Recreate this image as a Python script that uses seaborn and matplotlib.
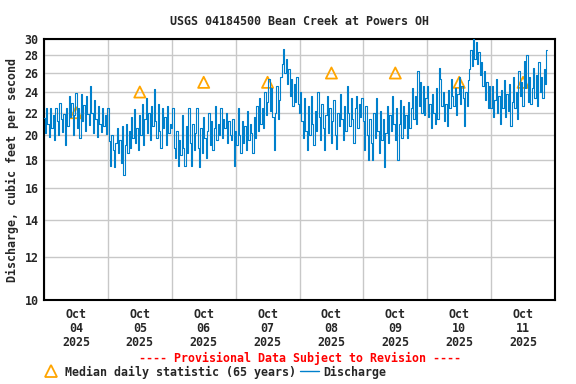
import numpy as np
import pandas as pd
import seaborn as sns
import matplotlib.pyplot as plt
import matplotlib.dates as mdates
from matplotlib.ticker import FixedLocator, FixedFormatter, NullLocator
from matplotlib.lines import Line2D

# half-hourly discharge (cfs), one list per day
d04 = [21.5, 20.2, 22.4, 21.0, 19.9, 22.4, 20.6, 21.8, 19.6, 22.4, 21.2, 20.0, 22.9, 21.4, 20.3, 21.9,
       19.2, 22.4, 20.8, 23.6, 21.6, 22.9, 20.0, 21.8, 23.9, 20.6, 22.4, 19.8, 23.8, 21.2, 22.7, 20.4,
       23.6, 21.9, 20.9, 24.6, 22.0, 20.2, 23.2, 21.4, 19.9, 22.6, 21.0, 20.3, 22.4, 20.8, 21.8, 20.1]
d05 = [22.4, 19.5, 17.6, 20.0, 18.8, 17.5, 19.4, 20.6, 18.6, 19.6, 17.8, 20.8, 16.9, 19.2, 21.0, 18.6,
       20.4, 19.0, 21.6, 19.8, 22.3, 19.4, 20.6, 18.8, 21.8, 20.0, 22.8, 19.2, 21.4, 23.4, 20.2, 22.0,
       19.6, 22.6, 20.8, 24.3, 21.2, 19.8, 22.8, 20.4, 19.0, 22.4, 20.6, 21.6, 19.2, 22.6, 20.2, 21.0]
d06 = [20.6, 22.4, 19.0, 18.2, 20.4, 17.6, 19.6, 18.4, 21.8, 19.0, 17.6, 20.8, 18.6, 22.4, 19.4, 17.6,
       21.0, 18.8, 20.2, 22.4, 19.0, 17.5, 20.6, 18.6, 21.6, 19.8, 18.2, 20.4, 22.0, 19.2, 21.2, 18.8,
       20.6, 22.6, 19.6, 21.0, 20.0, 22.4, 19.8, 21.4, 20.6, 22.0, 19.4, 21.2, 20.0, 19.6, 21.4, 17.6]
d07 = [20.4, 19.2, 22.4, 20.0, 18.6, 21.2, 19.4, 20.8, 18.8, 22.2, 19.6, 21.0, 20.2, 18.6, 21.6, 19.8,
       22.6, 20.4, 23.4, 21.0, 22.4, 20.6, 24.0, 21.8, 23.0, 25.4, 22.2, 24.4, 21.6, 18.8, 22.0, 24.6,
       21.4, 23.2, 25.6, 27.0, 28.8, 26.0, 27.6, 24.8, 26.4, 23.6, 25.4, 22.6, 24.8, 23.0, 25.6, 22.8]
d08 = [22.0, 24.0, 21.2, 19.8, 23.4, 20.4, 18.8, 22.6, 20.0, 23.6, 21.0, 19.2, 22.2, 20.4, 24.0, 21.6,
       19.6, 22.8, 20.6, 18.8, 21.8, 23.6, 20.2, 22.4, 19.4, 21.2, 23.2, 20.0, 18.9, 22.0, 20.8, 23.8,
       21.4, 19.6, 22.6, 20.4, 24.6, 22.0, 20.8, 23.4, 21.4, 19.4, 22.4, 23.6, 20.6, 22.8, 21.6, 23.4]
d09 = [21.2, 18.8, 22.6, 20.0, 18.0, 21.4, 19.4, 18.0, 22.0, 19.8, 23.4, 20.4, 18.6, 22.2, 19.6, 21.4,
       17.5, 20.2, 22.6, 19.4, 21.8, 20.4, 23.6, 21.0, 19.6, 22.4, 18.0, 21.0, 23.2, 19.8, 22.6, 20.6,
       21.8, 19.8, 23.0, 20.6, 22.4, 24.4, 21.4, 23.6, 21.0, 26.2, 22.6, 25.0, 22.0, 24.6, 21.8, 23.4]
d10 = [24.6, 21.6, 22.8, 20.6, 23.8, 22.0, 21.0, 24.4, 21.4, 26.6, 25.4, 22.6, 24.0, 21.2, 22.8, 20.8,
       24.2, 22.4, 25.4, 23.6, 22.6, 24.4, 21.8, 23.8, 25.6, 22.8, 24.6, 23.4, 20.8, 24.0, 22.6, 25.2,
       26.4, 28.6, 26.8, 30.0, 27.6, 29.6, 27.0, 28.4, 25.8, 27.2, 24.6, 26.2, 23.2, 25.0, 22.4, 24.6]
d11 = [22.4, 24.6, 21.6, 23.2, 25.4, 22.0, 23.6, 21.0, 24.2, 22.4, 25.2, 21.6, 23.8, 22.2, 24.8, 20.8,
       23.0, 25.6, 22.4, 24.0, 21.4, 26.2, 23.6, 25.0, 22.6, 27.4, 24.4, 28.0, 23.0, 25.6, 22.8, 24.4,
       26.6, 23.4, 25.8, 22.6, 27.2, 24.0, 25.6, 23.4, 26.4, 24.8, 28.6]

days = ["2025-10-04", "2025-10-05", "2025-10-06", "2025-10-07",
        "2025-10-08", "2025-10-09", "2025-10-10", "2025-10-11"]
median_cfs = [22, 24, 25, 25, 26, 26, 25, 25]
y_ticks = [10, 12, 14, 16, 18, 20, 22, 24, 26, 28, 30]

flow = d04 + d05 + d06 + d07 + d08 + d09 + d10 + d11
df = pd.DataFrame({
    "time": pd.date_range("2025-10-04 00:00", periods=len(flow), freq="30min"),
    "cfs": flow,
})
med = pd.DataFrame({
    "time": pd.to_datetime(days) + pd.Timedelta(hours=12),
    "cfs": median_cfs,
})

sns.set_style("white")
mono = "DejaVu Sans Mono"
plt.rcParams["font.family"] = mono
plt.rcParams["font.weight"] = "bold"
plt.rcParams["axes.titleweight"] = "bold"
plt.rcParams["axes.labelweight"] = "bold"

fig = plt.figure(figsize=(5.76, 3.84), dpi=100)
ax = fig.add_axes([44 / 576, 84 / 384, 511 / 576, 261 / 384])

# medians sit under the discharge trace, as in the reference
sns.scatterplot(data=med, x="time", y="cfs", ax=ax, marker="^", s=64,
                facecolor="none", edgecolor="#FFA500", linewidth=1.3, zorder=2)
sns.lineplot(data=df, x="time", y="cfs", ax=ax, color="#0080CC", linewidth=0.8,
             estimator=None, sort=False, drawstyle="steps-mid", zorder=3)

ax.set_yscale("log")
ax.set_ylim(10, 30)
ax.yaxis.set_major_locator(FixedLocator(y_ticks))
ax.yaxis.set_major_formatter(FixedFormatter([str(v) for v in y_ticks]))
ax.yaxis.set_minor_locator(NullLocator())

ax.set_xlim(pd.Timestamp("2025-10-04"), pd.Timestamp("2025-10-12"))
ax.xaxis.set_major_locator(mdates.DayLocator())
ax.xaxis.set_major_formatter(plt.NullFormatter())
ax.xaxis.set_minor_locator(mdates.HourLocator(byhour=[12]))
ax.xaxis.set_minor_formatter(mdates.DateFormatter("%b\n%d\n%Y"))

ax.grid(True, which="major", color="#c8c8c8", lw=1.0, zorder=0)
ax.set_axisbelow(True)
ax.tick_params(axis="both", which="both", length=0, labelsize=8.4, pad=4)
ax.tick_params(axis="x", which="minor", pad=6)
for lab in ax.get_xticklabels(which="minor"):
    lab.set_linespacing(1.1)
for sp in ax.spines.values():
    sp.set_color("black")
    sp.set_linewidth(1.5)

ax.set_xlabel("")
ax.set_ylabel("Discharge, cubic feet per second", fontsize=8.4, fontweight="bold", labelpad=4)
ax.set_title("USGS 04184500 Bean Creek at Powers OH", fontsize=8.4, fontweight="bold", pad=10)

fig.text(300 / 576, 1 - 358 / 384, "---- Provisional Data Subject to Revision ----",
         color="red", fontsize=8.4, fontweight="bold", ha="center", va="center")

handles = [
    Line2D([], [], marker="^", ls="none", mfc="none", mec="#FFA500", ms=8, mew=1.3),
    Line2D([], [], color="#0080CC", lw=1.0),
]
fig.legend(handles, ["Median daily statistic (65 years)", "Discharge"],
           loc="center left", bbox_to_anchor=(42 / 576, 1 - 372 / 384), ncol=2,
           frameon=False, handlelength=1.6, handletextpad=0.4,
           columnspacing=0.3, borderpad=0, borderaxespad=0,
           prop={"family": mono, "weight": "bold", "size": 8.4})

fig.savefig("out.png", dpi=100)
